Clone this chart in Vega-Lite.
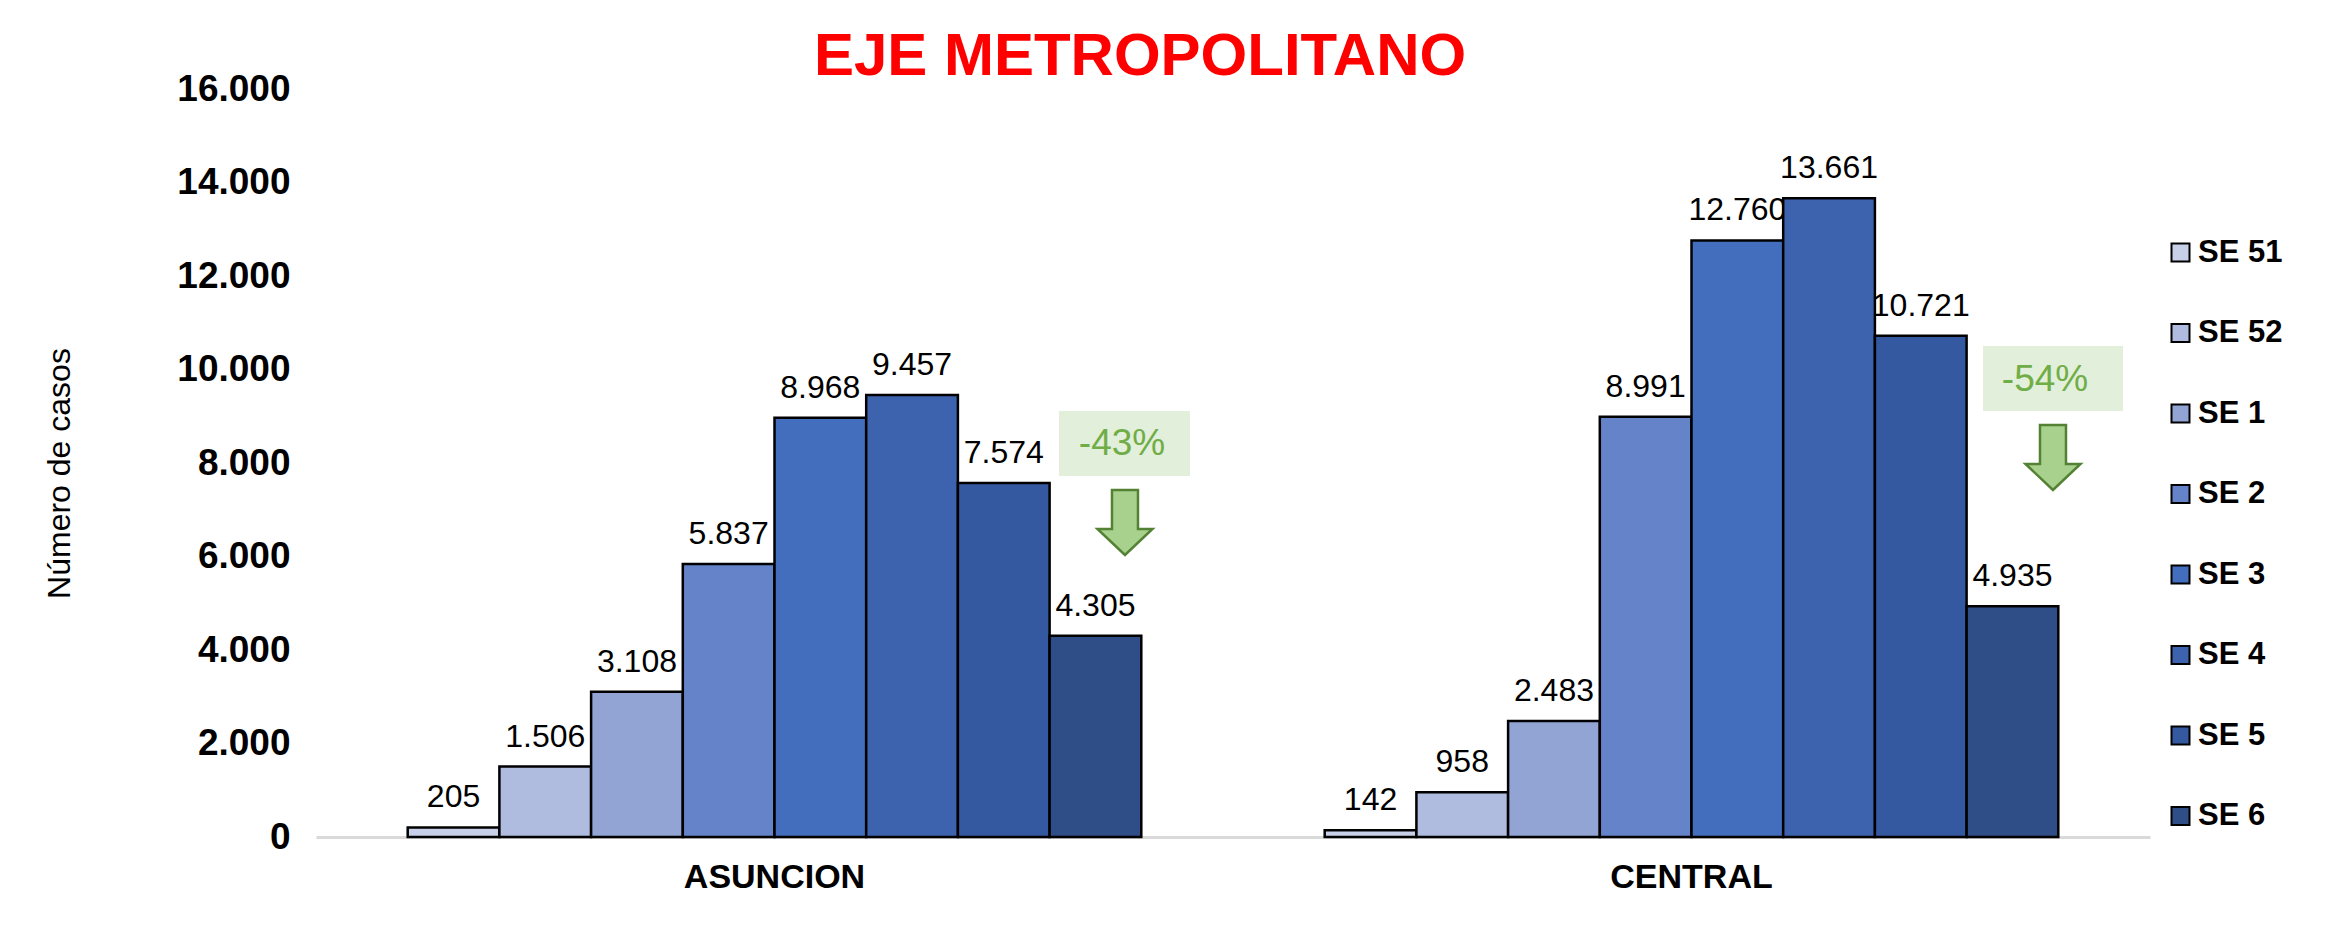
{
  "$schema": "https://vega.github.io/schema/vega-lite/v6.json",
  "width": 1834,
  "height": 748,
  "autosize": {"type": "none"},
  "padding": {"left": 316, "top": 89, "right": 178, "bottom": 95},
  "background": "white",
  "title": {
    "text": "EJE METROPOLITANO",
    "color": "#ff0000",
    "font": "Liberation Sans",
    "fontSize": 60,
    "fontWeight": "bold",
    "anchor": "middle",
    "frame": "group",
    "dx": -93,
    "dy": 20,
    "offset": 2
  },
  "config": {
    "font": "Liberation Sans",
    "view": {"stroke": null},
    "axis": {"grid": false, "ticks": false},
    "axisY": {"labelFontSize": 37, "labelFontWeight": "bold", "labelColor": "black", "labelPadding": 26, "domain": false, "ticks": false, "grid": false, "titleFontSize": 32, "titleFontWeight": "normal", "titleColor": "black", "titlePadding": 100, "titleY": 384},
    "locale": {"number": {"decimal": ",", "thousands": ".", "grouping": [3], "currency": ["$", ""]}}
  },
  "datasets": {
    "bars": [
      {"region": "ASUNCION", "week": "SE 51", "casos": 205},
      {"region": "ASUNCION", "week": "SE 52", "casos": 1506},
      {"region": "ASUNCION", "week": "SE 1", "casos": 3108},
      {"region": "ASUNCION", "week": "SE 2", "casos": 5837},
      {"region": "ASUNCION", "week": "SE 3", "casos": 8968},
      {"region": "ASUNCION", "week": "SE 4", "casos": 9457},
      {"region": "ASUNCION", "week": "SE 5", "casos": 7574},
      {"region": "ASUNCION", "week": "SE 6", "casos": 4305},
      {"region": "CENTRAL", "week": "SE 51", "casos": 142},
      {"region": "CENTRAL", "week": "SE 52", "casos": 958},
      {"region": "CENTRAL", "week": "SE 1", "casos": 2483},
      {"region": "CENTRAL", "week": "SE 2", "casos": 8991},
      {"region": "CENTRAL", "week": "SE 3", "casos": 12760},
      {"region": "CENTRAL", "week": "SE 4", "casos": 13661},
      {"region": "CENTRAL", "week": "SE 5", "casos": 10721},
      {"region": "CENTRAL", "week": "SE 6", "casos": 4935}
    ],
    "notes": [
      {"region": "ASUNCION", "label": "-43%", "x1": 0.8103, "x2": 0.9531, "tx": 0.879, "ax": 0.8822, "ytop": 9112, "ybot": 7722, "ty": 8417, "ay": 6727},
      {"region": "CENTRAL", "label": "-54%", "x1": 1.8179, "x2": 1.9706, "tx": 1.8855, "ax": 1.8942, "ytop": 10503, "ybot": 9112, "ty": 9775, "ay": 8118}
    ]
  },
  "layer": [
    {
      "data": {"name": "bars"},
      "encoding": {
        "x": {
          "field": "region", "type": "nominal", "sort": ["ASUNCION", "CENTRAL"],
          "scale": {"paddingInner": 0, "paddingOuter": 0},
          "axis": {"title": null, "labelAngle": 0, "labelFontSize": 34, "labelFontWeight": "bold", "labelColor": "black", "labelPadding": 23, "labelLimit": 0, "domainColor": "#d9d9d9", "domainWidth": 3, "ticks": false}
        },
        "xOffset": {
          "field": "week", "type": "nominal",
          "sort": ["SE 51", "SE 52", "SE 1", "SE 2", "SE 3", "SE 4", "SE 5", "SE 6"],
          "scale": {"paddingInner": 0, "paddingOuter": 1.066}
        },
        "y": {
          "field": "casos", "type": "quantitative",
          "scale": {"domain": [0, 16000], "nice": false},
          "title": "Número de casos",
          "axis": {"values": [0, 2000, 4000, 6000, 8000, 10000, 12000, 14000, 16000], "format": ",d"}
        }
      },
      "layer": [
        {
          "mark": {"type": "text", "baseline": "alphabetic", "align": "center", "dy": -20, "fontSize": 32, "color": "black"},
          "encoding": {"text": {"field": "casos", "type": "quantitative", "format": ",d"}}
        },
        {
          "mark": {"type": "bar", "stroke": "black", "strokeWidth": 2.5},
          "encoding": {
            "color": {
              "field": "week", "type": "nominal",
              "scale": {
                "domain": ["SE 51", "SE 52", "SE 1", "SE 2", "SE 3", "SE 4", "SE 5", "SE 6"],
                "range": ["#c8cfe8", "#afbbdf", "#91a4d4", "#6583c8", "#426ebd", "#3e63ae", "#3559a0", "#2f4d87"]
              },
              "legend": {"title": null, "orient": "none", "legendX": 1849, "legendY": 148, "padding": 0, "symbolType": "square", "symbolSize": 324, "symbolStrokeColor": "black", "symbolStrokeWidth": 2, "symbolOpacity": 1, "labelFontSize": 31, "labelFontWeight": "bold", "labelColor": "black", "labelOffset": 2, "labelLimit": 0, "rowPadding": 48.5}
            }
          }
        }
      ]
    },
    {
      "data": {"name": "notes"},
      "layer": [
        {
          "mark": {"type": "rect", "fill": "#e2efda"},
          "encoding": {
            "x": {"field": "x1", "type": "quantitative", "scale": {"domain": [0, 2], "nice": false, "zero": false}, "axis": null},
            "x2": {"field": "x2"},
            "y": {"field": "ytop", "type": "quantitative", "title": "Número de casos"},
            "y2": {"field": "ybot"}
          }
        },
        {
          "mark": {"type": "text", "baseline": "middle", "align": "center", "fontSize": 37, "color": "#70ad47"},
          "encoding": {
            "x": {"field": "tx", "type": "quantitative", "axis": null},
            "y": {"field": "ty", "type": "quantitative", "title": "Número de casos"},
            "text": {"field": "label"}
          }
        },
        {
          "mark": {"type": "point", "shape": "M -0.4 -1 L 0.4 -1 L 0.4 0.2 L 0.846 0.2 L 0 1 L -0.846 0.2 L -0.4 0.2 Z", "size": 4225, "filled": true, "fill": "#a9d18e", "stroke": "#548235", "strokeWidth": 2.5, "opacity": 1},
          "encoding": {
            "x": {"field": "ax", "type": "quantitative", "axis": null},
            "y": {"field": "ay", "type": "quantitative", "title": "Número de casos"}
          }
        }
      ]
    }
  ],
  "resolve": {"scale": {"x": "independent"}}
}
